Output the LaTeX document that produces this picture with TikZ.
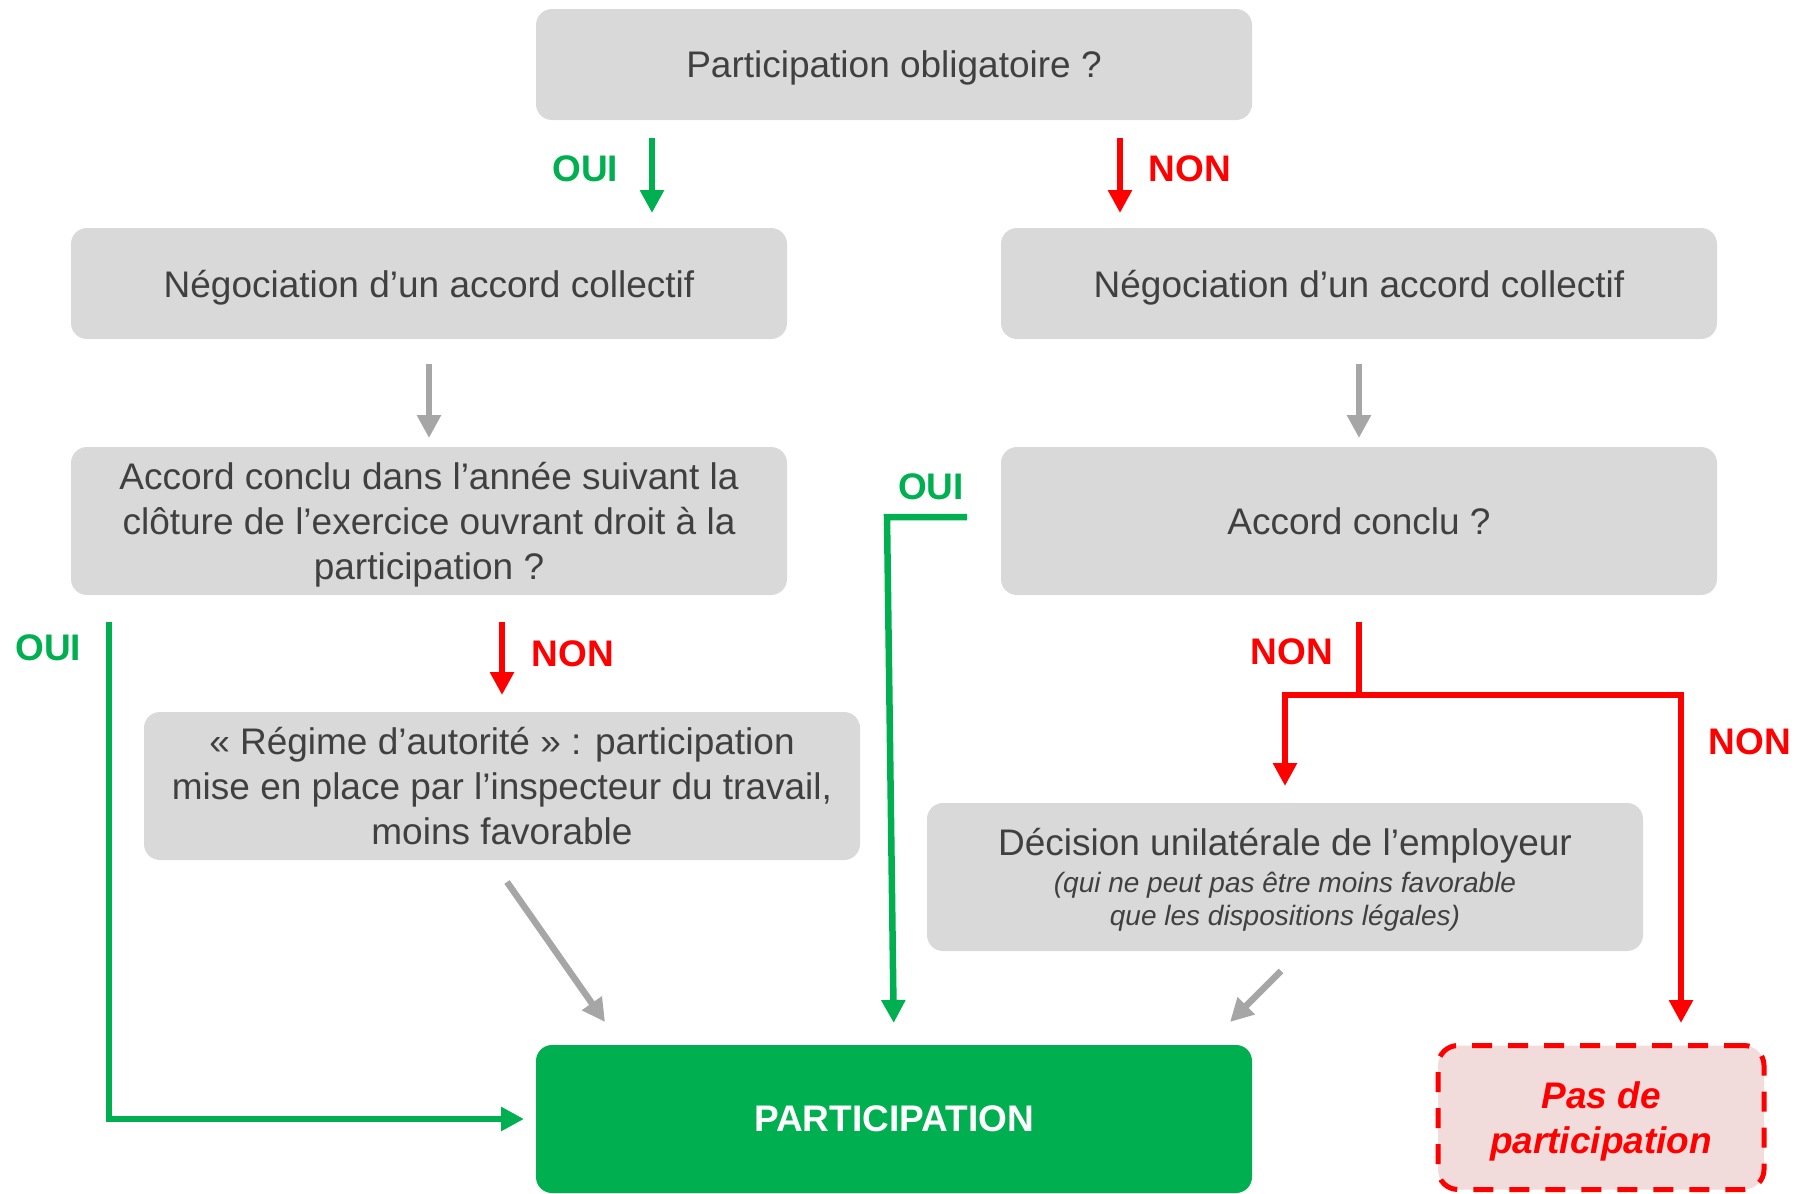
\documentclass[tikz,border=0pt]{standalone}
\usepackage{fontspec}
\setmainfont{Liberation Sans}
\usetikzlibrary{arrows.meta}
\usetikzlibrary{positioning}
\usetikzlibrary{calc}
\definecolor{boxgray}{HTML}{D9D9D9}
\definecolor{txtgray}{HTML}{404040}
\definecolor{ouigreen}{HTML}{00B050}
\definecolor{nonred}{HTML}{FF0000}
\definecolor{arrowgray}{HTML}{A6A6A6}
\definecolor{pasfill}{HTML}{F2DCDB}
\newcommand{\bigtxt}{\fontsize{18.5}{22.5}\selectfont}
\newcommand{\smalltxt}{\fontsize{14}{16}\selectfont}

\begin{document}
\begin{tikzpicture}[x=0.5pt,y=-0.5pt,>={Triangle[length=11.5pt,width=11.5pt]},line width=3.25pt,node distance=54pt]
\tikzstyle{basebox}=[fill=boxgray,text=txtgray,rounded corners=8pt,align=center,minimum width=358pt,font=\bigtxt,inner sep=0pt,outer sep=0pt,text depth=0pt]
\tikzstyle{qbox}=[basebox,minimum height=55.5pt]
\tikzstyle{tallbox}=[basebox,minimum height=74pt]
\tikzstyle{okbox}=[tallbox,fill=ouigreen,text=white,font=\bigtxt\bfseries]
\tikzstyle{nobox}=[draw=nonred,dash pattern=on 10pt off 8pt,line width=2.5pt,fill=pasfill,text=nonred,rounded corners=10pt,align=center,minimum width=163pt,minimum height=72pt,text depth=0pt,font=\bigtxt\bfseries\itshape]
\tikzstyle{ouiline}=[ouigreen]
\tikzstyle{nonline}=[nonred]
\tikzstyle{grisline}=[arrowgray]
\tikzstyle{ouilbl}=[text=ouigreen,font=\bigtxt\bfseries]
\tikzstyle{nonlbl}=[text=nonred,font=\bigtxt\bfseries]

\useasboundingbox (0,0) rectangle (1806,1194);

\node[qbox] (oblig) at (894,64.5) {Participation obligatoire ?};
\node[qbox] (neg1) at (429,283.5) {Négociation d’un accord collectif};
\node[qbox,right=of neg1,xshift=53pt] (neg2) {Négociation d’un accord collectif};
\node[tallbox,below=of neg1] (acc1) {Accord conclu dans l’année suivant la\\clôture de l’exercice ouvrant droit à la\\participation ?};
\node[tallbox,below=of neg2] (acc2) {Accord conclu ?};
\node[tallbox] (regime) at (502,786) {« Régime d’autorité » : participation\\mise en place par l’inspecteur du travail,\\moins favorable};
\node[tallbox] (decision) at (1285,877) {Décision unilatérale de l’employeur\\[-4pt]{\smalltxt\itshape (qui ne peut pas être moins favorable}\\[-6pt]{\smalltxt\itshape que les dispositions légales)}};
\node[okbox] (part) at (894,1119) {PARTICIPATION};
\node[nobox] (pas) at (1601,1117.5) {Pas de\\participation};

% premier choix
\coordinate (xoui) at (652,0);
\coordinate (xnon) at (1120,0);
\draw[ouiline,->,shorten <=9pt,shorten >=7.5pt] (oblig.south -| xoui) -- node[ouilbl,left=12pt,yshift=2.5pt] (loui1) {OUI} (neg1.north -| xoui);
\draw[nonline,->,shorten <=9pt,shorten >=7.5pt] (oblig.south -| xnon) -- node[nonlbl,right=9.5pt,yshift=2.5pt] (lnon1) {NON} (neg2.north -| xnon);
\draw[grisline,->,shorten <=12.5pt,shorten >=4.5pt] (neg1) -- (acc1);
\draw[grisline,->,shorten <=12.5pt,shorten >=4.5pt] (neg2) -- (acc2);

% branche gauche
\draw[ouiline,->,shorten <=13.5pt,shorten >=6pt] ($(acc1.south west)+(38,0)$) |- node[ouilbl,left=9pt,pos=0.05] (loui2) {OUI} (part.west);
\draw[nonline,->,shorten <=13.5pt,shorten >=8.5pt] (acc1.south -| regime.north) -- node[nonlbl,right=10pt] (lnon2) {NON} (regime.north);
\draw[grisline,->] ($(regime.south)+(5,22)$) -- ($(part.north west)+(69,-23)$);

% branche droite
\draw[ouiline,->,shorten >=11pt] ($(acc2.west)+(-34,-4)$) -- node[ouilbl,above=3.5pt,xshift=2pt] (loui3) {OUI} ++(-80,0) -- (part.north);
\coordinate (split) at ($(acc2.south)+(0,100)$);
\coordinate (xpas) at (1681,0);
\draw[nonline,shorten <=13.5pt] (acc2.south) -- node[nonlbl,left=8pt,pos=0.57] (lnon3) {NON} (split);
\draw[nonline,->,shorten >=8.5pt] (split) -| (decision.north);
\draw[nonline,->,shorten >=10pt] (split) -| node[nonlbl,right=9pt,pos=0.567] (lnon4) {NON} (pas.north -| xpas);
\draw[grisline,->] ($(decision.south)+(-4,20)$) -- ($(part.north east)+(-22,-23)$);
\end{tikzpicture}
\end{document}
